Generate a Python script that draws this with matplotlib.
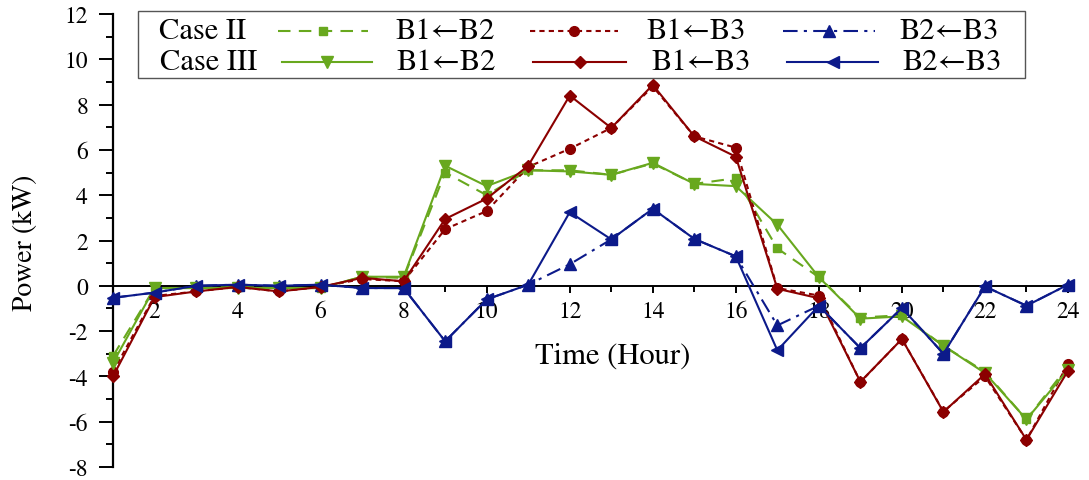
import matplotlib
matplotlib.use("Agg")
import matplotlib.pyplot as plt
from matplotlib.ticker import MultipleLocator
from matplotlib.patches import Rectangle
from matplotlib.lines import Line2D

# ---------------- data ----------------
hours = list(range(1, 25))

case2_b1b2 = [-3.1, -0.1, -0.1, -0.05, -0.1, -0.1, 0.4, 0.35, 5.0, 4.0, 5.1, 5.1,
              4.9, 5.4, 4.5, 4.75, 1.65, 0.38, -1.4, -1.3, -2.65, -3.8, -5.9, -3.55]
case3_b1b2 = [-3.4, -0.1, -0.1, -0.1, -0.1, -0.1, 0.4, 0.4, 5.3, 4.4, 5.1, 5.05,
              4.9, 5.43, 4.5, 4.4, 2.7, 0.38, -1.45, -1.35, -2.65, -3.85, -5.9, -3.7]
case2_b1b3 = [-3.8, -0.45, -0.25, -0.05, -0.25, -0.05, 0.3, 0.2, 2.5, 3.3, 5.25, 6.05,
              6.97, 8.8, 6.6, 6.1, -0.1, -0.43, -4.25, -2.35, -5.55, -4.0, -6.8, -3.45]
case3_b1b3 = [-4.0, -0.5, -0.25, -0.05, -0.25, -0.05, 0.35, 0.2, 2.95, 3.85, 5.3, 8.4,
              6.97, 8.87, 6.6, 5.7, -0.13, -0.55, -4.24, -2.35, -5.57, -3.9, -6.8, -3.75]
case2_b2b3 = [-0.53, -0.3, 0.0, 0.05, 0.0, 0.05, -0.1, -0.1, -2.45, -0.6, 0.05, 0.95,
              2.05, 3.4, 2.07, 1.3, -1.75, -0.88, -2.75, -0.98, -3.0, -0.03, -0.88, 0.05]
case3_b2b3 = [-0.53, -0.3, 0.0, 0.05, 0.0, 0.05, -0.1, -0.1, -2.45, -0.6, 0.05, 3.25,
              2.05, 3.4, 2.07, 1.3, -2.85, -0.88, -2.75, -0.98, -3.0, -0.03, -0.88, 0.05]

case_labels = ["Case II", "Case III"]
pair_labels = ["B1\u2190B2", "B1\u2190B3", "B2\u2190B3"]

GREEN = "#68a81e"
RED = "#8b0000"
BLUE = "#0c1a8a"

plt.rcParams["font.family"] = ["STIXGeneral", "Liberation Serif", "DejaVu Serif"]
plt.rcParams["axes.unicode_minus"] = False

fig = plt.figure(figsize=(10.89, 4.81), dpi=100)
W, H = 1089, 481
ax_l, ax_r, ax_t, ax_b = 113, 1068, 15, 468
ax = fig.add_axes([ax_l / W, 1 - ax_b / H, (ax_r - ax_l) / W, (ax_b - ax_t) / H])

lw = 1.5
styles = [
    (case2_b1b2, dict(color=GREEN, ls=(0, (6, 4)), marker="s", ms=6)),
    (case2_b1b3, dict(color=RED, ls=(0, (2.5, 2)), marker="o", ms=7)),
    (case2_b2b3, dict(color=BLUE, ls=(0, (7, 3, 1.5, 3)), marker="^", ms=8)),
    (case3_b1b2, dict(color=GREEN, ls="-", marker="v", ms=8)),
    (case3_b1b3, dict(color=RED, ls="-", marker="D", ms=6.5)),
    (case3_b2b3, dict(color=BLUE, ls="-", marker="<", ms=8)),
]
for vals, st in styles:
    ax.plot(hours, vals, lw=lw, clip_on=False, zorder=3, **st)

ax.set_xlim(1, 24)
ax.set_ylim(-8, 12)
ax.spines["top"].set_visible(False)
ax.spines["right"].set_visible(False)
ax.spines["bottom"].set_position(("data", 0))
ax.spines["left"].set_linewidth(1.6)
ax.spines["bottom"].set_linewidth(1.4)

ax.xaxis.set_major_locator(MultipleLocator(2))
ax.xaxis.set_minor_locator(MultipleLocator(1))
ax.yaxis.set_major_locator(MultipleLocator(2))
ax.yaxis.set_minor_locator(MultipleLocator(1))
ax.tick_params(axis="x", which="major", direction="out", length=5, width=1.4, pad=6, labelsize=17)
ax.tick_params(axis="x", which="minor", direction="out", length=4, width=1.4)
ax.tick_params(axis="y", which="major", direction="out", length=10, width=1.4, pad=8, labelsize=17)
ax.tick_params(axis="y", which="minor", direction="out", length=5, width=1.4)
for lab in ax.get_xticklabels():
    lab.set_zorder(1)

ax.set_xlabel("Time (Hour)", fontsize=22)
ax.xaxis.set_label_coords((613 - ax_l) / (ax_r - ax_l), (ax_b - 357) / (ax_b - ax_t))
ax.xaxis.label.set_verticalalignment("center")
ax.set_ylabel("Power (kW)", fontsize=20)
ax.yaxis.set_label_coords((25 - ax_l) / (ax_r - ax_l), (ax_b - 243) / (ax_b - ax_t))
ax.yaxis.label.set_verticalalignment("center")


# ---------------- legend (drawn as a boxed key) ----------------
def fx(px):
    return (px - ax_l) / (ax_r - ax_l)


def fy(py):
    return (ax_b - py) / (ax_b - ax_t)


frame = Rectangle((fx(138), fy(79)), fx(1025) - fx(138), fy(12) - fy(79),
                  transform=ax.transAxes, fill=True, facecolor="white",
                  edgecolor="#555555", lw=1.0, clip_on=False, zorder=5)
ax.add_patch(frame)

rows_y = [32, 63]
case_centers = [203, 209]
text_centers = [[445, 696, 949], [446, 701, 952]]
key_spans = [[(278, 368), (530, 618), (783, 875)],
             [(282, 372), (533, 626), (787, 878)]]
row_styles = [styles[0:3], styles[3:6]]
fs_leg = 22
for r in range(2):
    yy = fy(rows_y[r])
    ax.text(fx(case_centers[r]), yy, case_labels[r], transform=ax.transAxes,
            ha="center", va="center", fontsize=fs_leg, zorder=6)
    for c in range(3):
        ax.text(fx(text_centers[r][c]), yy, pair_labels[c], transform=ax.transAxes,
                ha="center", va="center", fontsize=fs_leg, zorder=6)
        x0, x1 = key_spans[r][c]
        st = dict(row_styles[r][c][1])
        mk = st.pop("marker")
        ms = st.pop("ms")
        ax.add_line(Line2D([fx(x0), fx(x1)], [yy, yy], transform=ax.transAxes,
                           lw=lw, clip_on=False, zorder=6, **st))
        ax.add_line(Line2D([fx((x0 + x1) / 2)], [yy], transform=ax.transAxes,
                           marker=mk, ms=ms, color=st["color"], ls="none",
                           clip_on=False, zorder=7))

fig.savefig("out.png", dpi=100)
